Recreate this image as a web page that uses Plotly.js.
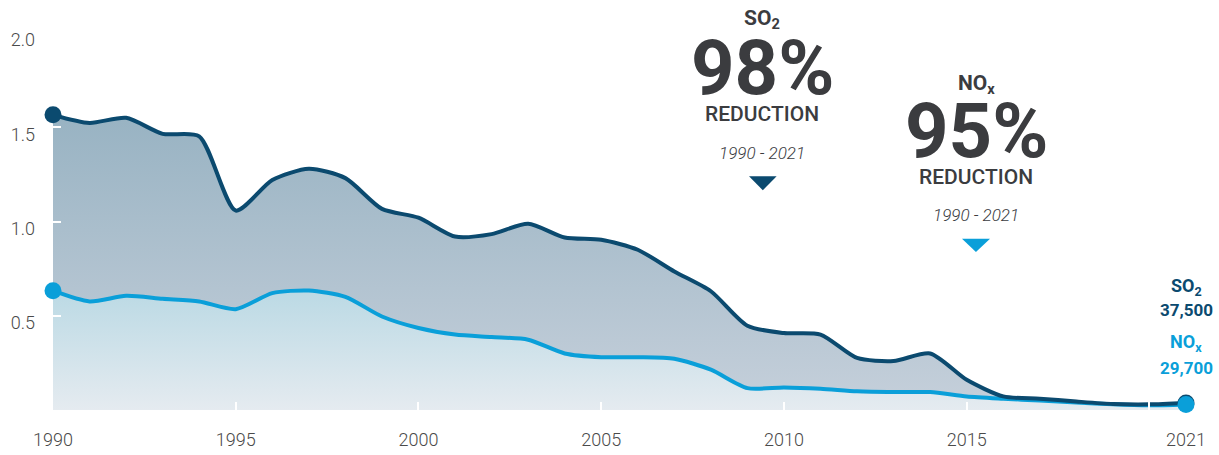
<!DOCTYPE html>
<html>
<head>
<meta charset="utf-8">
<script src="https://cdn.plot.ly/plotly-3.0.1.min.js"></script>
<style>
html,body{margin:0;padding:0;background:#fff;}
#chart{width:1219px;height:455px;}
</style>
</head>
<body>
<div id="chart"></div>
<script>
// Emissions (million tons), 1990-2021
const years = [1990,1991,1992,1993,1994,1995,1996,1997,1998,1999,2000,2001,2002,2003,2004,2005,2006,2007,2008,2009,2010,2011,2012,2013,2014,2015,2016,2017,2018,2019,2020,2021];
const so2 = [1.566,1.523,1.55,1.465,1.452,1.058,1.22,1.28,1.23,1.067,1.02,0.92,0.933,0.988,0.915,0.903,0.85,0.735,0.63,0.447,0.408,0.40,0.276,0.26,0.30,0.16,0.072,0.06,0.045,0.032,0.03,0.0375];
const nox = [0.633,0.576,0.606,0.59,0.576,0.535,0.62,0.634,0.60,0.496,0.435,0.40,0.387,0.373,0.30,0.28,0.28,0.272,0.214,0.116,0.12,0.113,0.099,0.095,0.095,0.072,0.06,0.05,0.04,0.03,0.025,0.0297];
const xTickVals = [1990,1995,2000,2005,2010,2015,2021];
const xTickText = ['1990','1995','2000','2005','2010','2015','2021'];
const xMinorTicks = [1995,2000,2005,2010,2015,2020];
const yTickVals = [0.5,1.0,1.5,2.0];
const yTickText = ['0.5','1.0','1.5','2.0'];
const so2Label = ['SO<sub>2</sub>','37,500'];
const noxLabel = ['NO<sub>x</sub>','29,700'];
const so2Reduction = '98%';
const noxReduction = '95%';
const period = '1990 - 2021';

const DARK = '#0b4a6f';
const CYAN = '#0a9fd9';
const TXT = '#3b3c3f';
const last = years.length - 1;

const traces = [
  {x: years, y: so2, type:'scatter', mode:'lines', line:{width:0, shape:'spline', smoothing:0.7, color:DARK},
   fill:'tozeroy', fillgradient:{type:'vertical', start:0, stop:1.6, colorscale:[[0,'#c6d0db'],[1,'#97b2c2']]}, hoverinfo:'skip'},
  {x: years, y: nox, type:'scatter', mode:'lines', line:{width:0, shape:'spline', smoothing:0.7, color:CYAN},
   fill:'tozeroy', fillgradient:{type:'vertical', start:0, stop:0.65, colorscale:[[0,'#e5ebf0'],[1,'#bad9e4']]}, hoverinfo:'skip'},
  {x: years, y: nox, type:'scatter', mode:'lines', line:{width:4, shape:'spline', smoothing:0.7, color:CYAN}, hoverinfo:'skip'},
  {x: years, y: so2, type:'scatter', mode:'lines', line:{width:4, shape:'spline', smoothing:0.7, color:DARK}, hoverinfo:'skip'},
  {x: [years[0], years[last]], y: [so2[0], so2[last]], type:'scatter', mode:'markers', marker:{size:17, color:DARK}, cliponaxis:false, hoverinfo:'skip'},
  {x: [years[0], years[last]], y: [nox[0], nox[last]], type:'scatter', mode:'markers', marker:{size:17, color:CYAN}, cliponaxis:false, hoverinfo:'skip'}
];

function ann(text, x, y, size, color, weight, style){
  return {text:text, x:x, y:y, xref:'paper', yref:'paper', xanchor:'center', yanchor:'middle', showarrow:false,
    font:{family:'Roboto, sans-serif', size:size, color:color, weight:weight||400, style:style||'normal'}};
}

const annotations = [
  ann('SO<sub>2</sub>', 0.6258, 1.036, 21, TXT, 700),
  ann(so2Reduction, 0.6258, 0.907, 76, TXT, 700),
  ann('REDUCTION', 0.6258, 0.784, 21, TXT, 500),
  ann(period, 0.6258, 0.682, 17, TXT, 300, 'italic'),
  ann('NO<sub>x</sub>', 0.8147, 0.863, 21, TXT, 700),
  ann(noxReduction, 0.8147, 0.740, 76, TXT, 700),
  ann('REDUCTION', 0.8147, 0.617, 21, TXT, 500),
  ann(period, 0.8147, 0.518, 17, TXT, 300, 'italic'),
  ann(so2Label[0], 1.0, 0.327, 18, DARK, 700),
  ann(so2Label[1], 1.0, 0.264, 17, DARK, 700),
  ann(noxLabel[0], 1.0, 0.179, 18, CYAN, 700),
  ann(noxLabel[1], 1.0, 0.112, 17, CYAN, 700)
];

const shapes = [
  {type:'path', xref:'paper', yref:'paper', path:'M 0.6143 0.6198 L 0.6387 0.6198 L 0.6265 0.5826 Z', fillcolor:DARK, line:{width:0}},
  {type:'path', xref:'paper', yref:'paper', path:'M 0.8023 0.4545 L 0.8270 0.4545 L 0.8146 0.4192 Z', fillcolor:CYAN, line:{width:0}}
];

const layout = {
  width:1219, height:455,
  margin:{l:53, r:33, t:33, b:45},
  paper_bgcolor:'#ffffff', plot_bgcolor:'#ffffff',
  showlegend:false,
  xaxis:{range:[1990,2021], tickvals:xTickVals, ticktext:xTickText, showgrid:false, zeroline:false, showline:false,
    ticks:'', ticklabelstandoff:17,
    minor:{tickvals:xMinorTicks, ticks:'inside', ticklen:8, tickwidth:2, tickcolor:'#ffffff', showgrid:false},
    tickfont:{family:'Roboto, sans-serif', size:18, color:'#4a4a4a', weight:300}, fixedrange:true},
  yaxis:{range:[0,2.0], tickvals:yTickVals, ticktext:yTickText, showgrid:false, zeroline:false, showline:false,
    ticks:'inside', ticklen:8, tickwidth:2, tickcolor:'#ffffff', ticklabelstandoff:17, ticklabelshift:7,
    tickfont:{family:'Roboto, sans-serif', size:18, color:'#4a4a4a', weight:300}, fixedrange:true},
  annotations:annotations,
  shapes:shapes
};

Plotly.newPlot('chart', traces, layout, {displayModeBar:false, staticPlot:true});
</script>
</body>
</html>
